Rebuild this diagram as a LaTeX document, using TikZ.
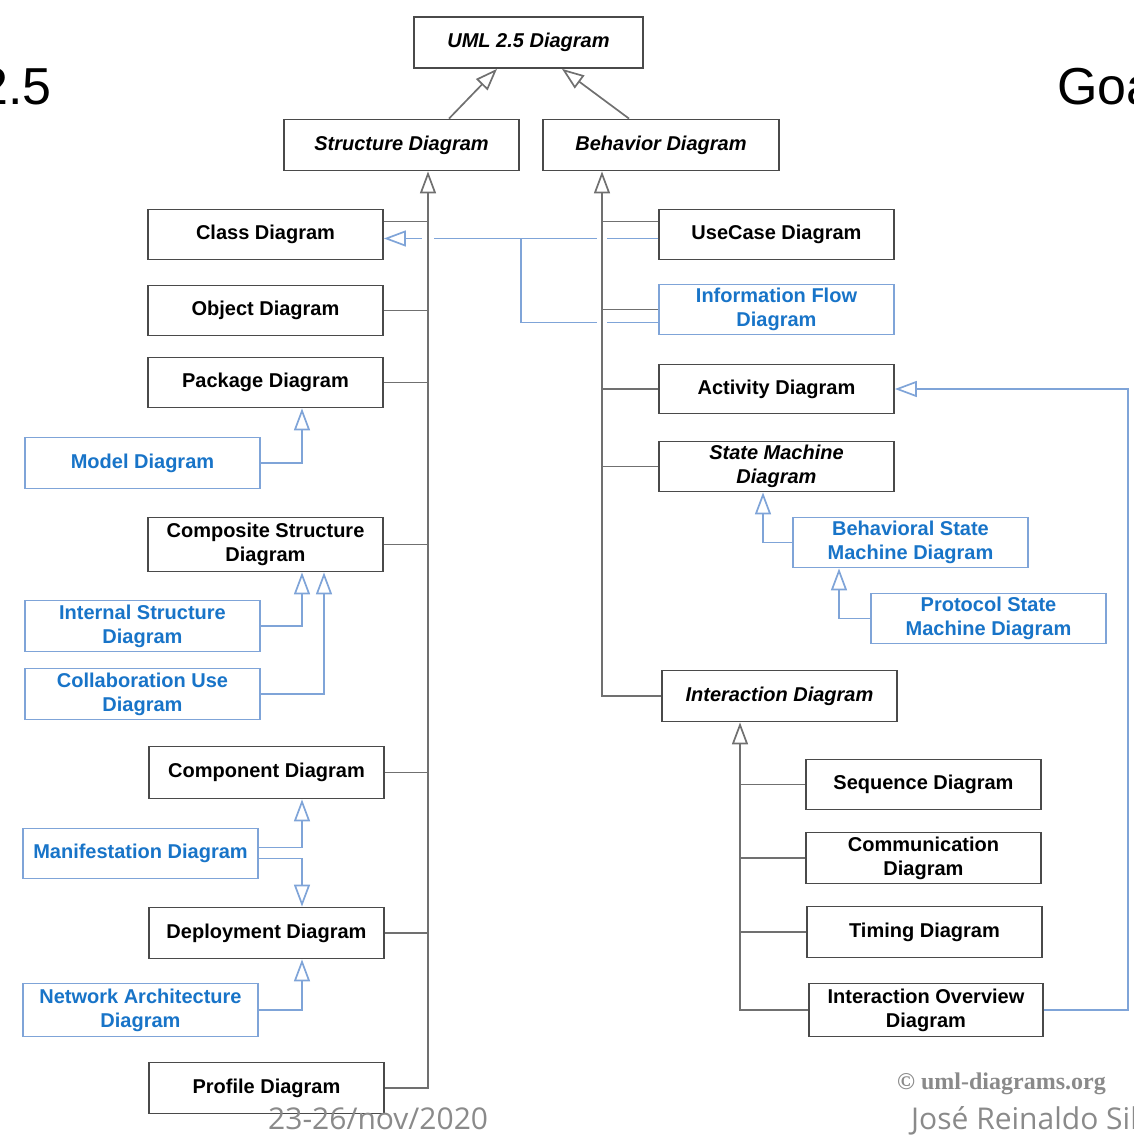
\documentclass[tikz,border=0pt]{standalone}
\usepackage{fontspec}
\setmainfont{Liberation Sans}
\newfontfamily\datefont{Open Sans}
\newfontfamily\credfont{Liberation Serif}
\usetikzlibrary{arrows.meta,calc}

\definecolor{boxline}{HTML}{4A4A4A}
\definecolor{conline}{HTML}{707070}
\definecolor{bluetext}{HTML}{1874C8}
\definecolor{blueline}{HTML}{7FA4D8}
\definecolor{footgray}{HTML}{8A8A8A}

\begin{document}
\begin{tikzpicture}[x=1pt,y=-1pt,
  diag/.style={draw=boxline, line width=1.8pt, fill=white, minimum width=235pt,
    minimum height=50pt, inner sep=0pt, align=center, text=black,
    font=\fontsize{20}{24}\selectfont\bfseries},
  abstract/.style={diag, font=\fontsize{20}{24}\selectfont\bfseries\itshape},
  ext/.style={diag, draw=blueline, text=bluetext},
  hollow/.tip={Triangle[open, length=22pt, width=16pt]},
  conn/.style={draw=conline, line width=1.7pt, line join=miter},
  genl/.style={conn, -hollow},
  bconn/.style={draw=blueline, line width=1.7pt, line join=miter},
  bgen/.style={bconn, -hollow},
  gapcut/.style={draw=white, line width=3.5pt},
  bigtext/.style={font=\fontsize{52}{60}\selectfont, inner sep=0pt},
  foot/.style={text=footgray, inner sep=0pt, anchor=base west},
]
\useasboundingbox (0,0) rectangle (1134,1137);
\begin{scope}
\clip (0,0) rectangle (1134,1137);

% ---- top of the hierarchy
\node[abstract, minimum width=229pt, minimum height=51pt] (uml) at (528.5,42.5) {UML 2.5 Diagram};
\node[abstract, minimum height=51pt] (struct) at (401.5,145) {Structure Diagram};
\node[abstract, minimum width=236pt, minimum height=51pt] (behav) at (661,145) {Behavior Diagram};

% ---- structure diagrams
\node[diag] (cls) at (265.5,234.5) {Class Diagram};
\node[diag] (obj) at (265.5,310.5) {Object Diagram};
\node[diag] (pkg) at (265.5,382.5) {Package Diagram};
\node[ext, minimum height=51pt] (model) at (142.5,463) {Model Diagram};
\node[diag, minimum height=54pt] (comp) at (265.5,544.5) {Composite Structure\\Diagram};
\node[ext, minimum height=51pt] (internal) at (142.5,626) {Internal Structure\\Diagram};
\node[ext, minimum height=51pt] (collab) at (142.5,694) {Collaboration Use\\Diagram};
\node[diag, minimum height=52pt] (component) at (266.5,772.5) {Component Diagram};
\node[ext] (manif) at (140.5,853.5) {Manifestation Diagram};
\node[diag, minimum height=51pt] (deploy) at (266.5,933) {Deployment Diagram};
\node[ext, minimum height=53pt] (network) at (140.5,1010) {Network Architecture\\Diagram};
\node[diag, minimum height=51pt] (profile) at (266.5,1088) {Profile Diagram};

% ---- behavior diagrams
\node[diag] (usecase) at (776.5,234.5) {UseCase Diagram};
\node[ext] (infoflow) at (776.5,309.5) {Information Flow\\Diagram};
\node[diag, minimum height=49pt] (activity) at (776.5,389) {Activity Diagram};
\node[abstract] (statem) at (776.5,466.5) {State Machine\\Diagram};
\node[ext] (behsm) at (910.5,542.5) {Behavioral State\\Machine Diagram};
\node[ext] (protsm) at (988.5,618.5) {Protocol State\\Machine Diagram};
\node[abstract, minimum height=51pt] (interact) at (779.5,696) {Interaction Diagram};
\node[diag] (seq) at (923.5,784.5) {Sequence Diagram};
\node[diag, minimum height=51pt] (commu) at (923.5,858) {Communication\\Diagram};
\node[diag, minimum height=51pt] (timing) at (924.5,932) {Timing Diagram};
\node[diag, minimum width=234pt, minimum height=53pt] (intov) at (926,1010) {Interaction Overview\\Diagram};

% ---- columns of the trunks and elbows
\coordinate (lx) at (428,0);
\coordinate (rx) at (602,0);
\coordinate (ix) at (740,0);
\coordinate (mx) at (302,0);
\coordinate (mx2) at (324,0);
\coordinate (sx) at (763,0);
\coordinate (px) at (839,0);
\coordinate (ax) at (1128,0);
\coordinate (jx) at (521,0);

% ---- generalizations to the root
\draw[genl] ($(struct.north)+(47.5,0)$) -- ($(uml.south)+(-31.5,0)$);
\draw[genl] ($(behav.north)+(-32,0)$) -- ($(uml.south)+(33.5,0)$);

% ---- information flow link to class diagram (drawn under the trunks)
\coordinate (dep) at ($(cls.east)+(0,4)$);
\coordinate (ifl) at ($(infoflow.west)+(0,13)$);
\draw[bgen] ($(usecase.west)+(0,4)$) -- (dep);
\draw[bconn] (ifl) -| (jx |- dep);
\draw[gapcut] ($(lx |- dep)+(-6,0)$) -- ($(lx |- dep)+(6,0)$);
\draw[gapcut] ($(rx |- dep)+(-5,0)$) -- ($(rx |- dep)+(5,0)$);
\draw[gapcut] ($(rx |- ifl)+(-5,0)$) -- ($(rx |- ifl)+(5,0)$);

% ---- structure trunk
\draw[conn, hollow-] (struct.south -| lx) -- (lx |- profile.east) -- (profile.east);
\coordinate (tcls) at ($(cls.east)+(0,-13)$);
\draw[conn] (tcls) -- (lx |- tcls);
\foreach \n in {obj,pkg,comp,component,deploy}
  \draw[conn] (\n.east) -- (lx |- \n.east);

% ---- behavior trunk
\draw[conn, hollow-] (behav.south -| rx) -- (rx |- interact.west) -- (interact.west);
\coordinate (tuc) at ($(usecase.west)+(0,-13)$);
\draw[conn] (tuc) -- (rx |- tuc);
\foreach \n in {infoflow,activity,statem}
  \draw[conn] (\n.west) -- (rx |- \n.west);

% ---- interaction trunk
\draw[conn, hollow-] (interact.south -| ix) -- (ix |- intov.west) -- (intov.west);
\foreach \n in {seq,commu,timing}
  \draw[conn] (\n.west) -- (ix |- \n.west);

% ---- extension generalizations
\draw[bgen] (model.east) -| (mx |- pkg.south);
\draw[bgen] (internal.east) -| (mx |- comp.south);
\draw[bgen] (collab.east) -| (mx2 |- comp.south);
\draw[bgen] ($(manif.east)+(0,-6)$) -| (mx |- component.south);
\draw[bgen] ($(manif.east)+(0,5)$) -| (mx |- deploy.north);
\draw[bgen] (network.east) -| (mx |- deploy.south);
\draw[bgen] (behsm.west) -| (sx |- statem.south);
\draw[bgen] (protsm.west) -| (px |- behsm.south);
\draw[bgen] (intov.east) -- (ax |- intov.east) -- (ax |- activity.east) -- (activity.east);

% ---- slide texts
\node[bigtext, anchor=base east] (ver) at (52,105) {2.5};
\node[bigtext, anchor=base west] (goal) at (1057,105) {Goa};
\node[foot, font=\credfont\bfseries\fontsize{24}{28}\selectfont] (cred) at (897,1089) {© uml-diagrams.org};
\node[foot, font=\datefont\fontsize{30}{36}\selectfont] (date) at (268,1129) {23-26/nov/2020};
\node[foot, font=\datefont\fontsize{30}{36}\selectfont] (author) at (911,1129) {José Reinaldo Silv};
\end{scope}
\end{tikzpicture}
\end{document}
